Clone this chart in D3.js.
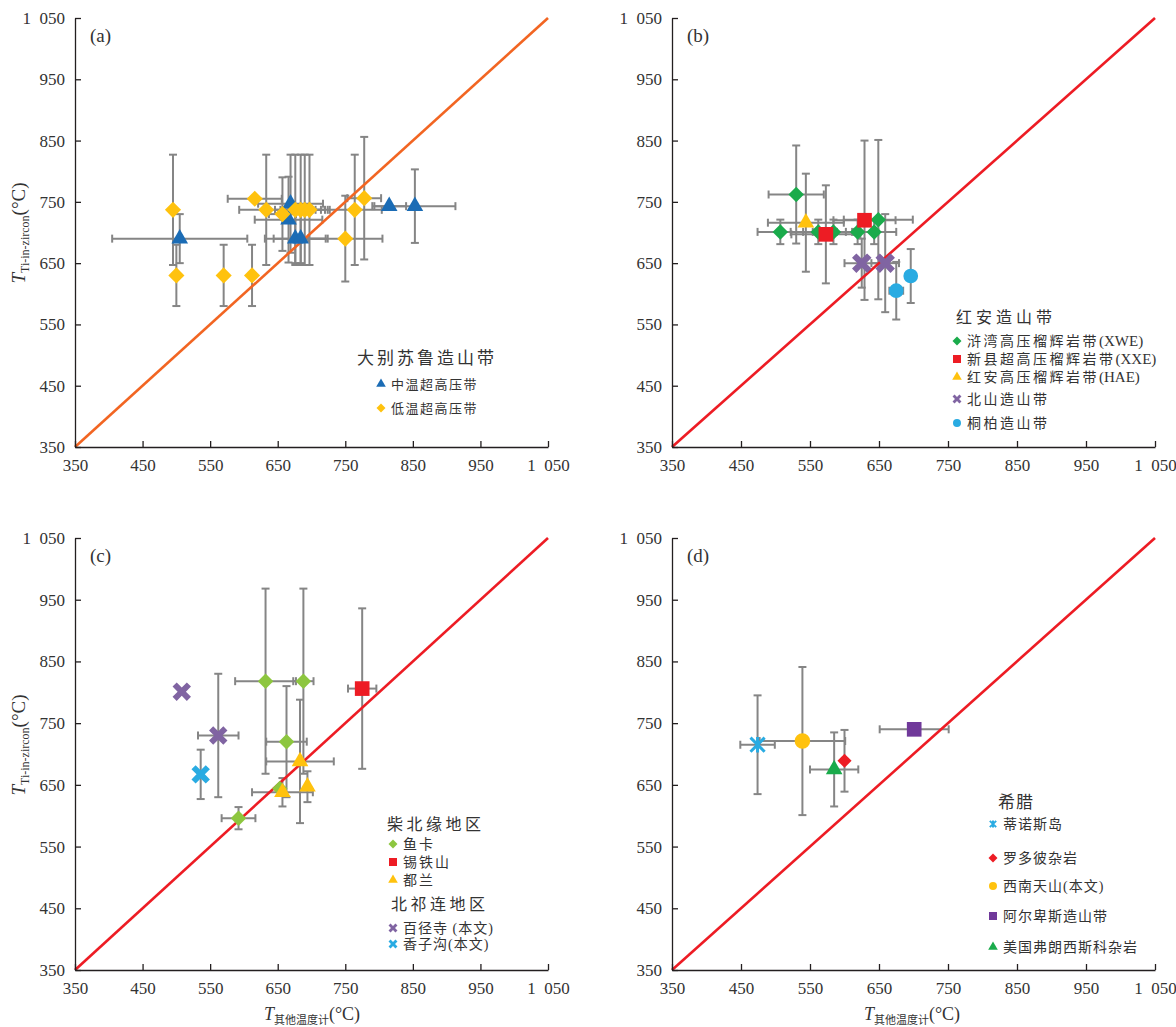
<!DOCTYPE html>
<html>
<head>
<meta charset="utf-8">
<script src="https://cdn.jsdelivr.net/npm/d3@7"></script>
<style>
  body { margin: 0; background: #fff; }
  text { font-family: "Liberation Serif", "Noto Sans CJK SC", serif; fill: #333; }
</style>
</head>
<body>
<svg id="chart" width="1176" height="1027"></svg>
<script>
// shared axis ticks and the 1:1 reference line
const ticks = [350, 450, 550, 650, 750, 850, 950, 1050];
const oneToOne = [350, 1050];

// each point: [x, y, xErr, yErr]
// (a) 大别苏鲁造山带
const aMid = [[505, 690, 100, 40], [669, 747, 48, 80], [666, 721, 50, 70], [676, 690, 45, 40],
              [684, 690, 40, 40], [815, 743, 25, 0], [853, 743, 60, 60]];
const aLow = [[495, 737, 0, 90], [500, 630, 0, 50], [570, 630, 0, 50], [612, 630, 0, 50],
              [616, 755, 40, 0], [633, 737, 40, 90], [657, 730, 20, 60], [676, 737, 30, 90],
              [684, 737, 30, 90], [690, 737, 30, 90], [697, 737, 30, 90], [750, 690, 55, 70],
              [764, 737, 40, 90], [778, 756, 25, 100]];

// (b) 红安造山带
const bXWE = [[530, 762, 40, 80], [507, 701, 33, 20], [562, 701, 40, 20], [584, 701, 30, 20],
              [619, 701, 30, 20], [643, 701, 32, 20], [649, 721, 50, 130]];
const bXXE = [[573, 697, 50, 80], [629, 720, 45, 130]];
const bHAE = [[544, 716, 55, 80]];
const bBeishan = [[625, 650, 25, 40], [659, 650, 20, 80]];
const bTongbai = [[675, 605, 10, 47], [696, 629, 0, 44]];

// (c) 柴北缘 / 北祁连
const cYuka = [[632, 818, 45, 150], [688, 818, 15, 150], [663, 720, 30, 90], [653, 644, 0, 0], [592, 596, 25, 18]];
const cXitieshan = [[775, 806, 21, 130]];
const cDulan = [[683, 688, 50, 100], [657, 638, 45, 23], [694, 647, 0, 25]];
const cBaijingsi = [[508, 801, 0, 0], [562, 730, 30, 100]];
const cXiangzigou = [[536, 667, 0, 40]];

// (d) 希腊 等
const dTinos = [[474, 715, 25, 80]];
const dRhodope = [[600, 689, 0, 50]];
const dSWTianshan = [[539, 721, 62, 120]];
const dAlps = [[701, 740, 50, 0]];
const dFranciscan = [[585, 675, 35, 60]];

const svg = d3.select("#chart");

const panels = [
  { key: "a", left: 75, top: 18, w: 473, h: 429, line: "#f26522" },
  { key: "b", left: 672, top: 18, w: 483, h: 429, line: "#ed1c24" },
  { key: "c", left: 75, top: 538, w: 473, h: 432, line: "#ed1c24" },
  { key: "d", left: 672, top: 538, w: 483, h: 432, line: "#ed1c24" }
];

const fmt = d => d >= 1000 ? Math.floor(d / 1000) + "\u2002" + String(d % 1000).padStart(3, "0") : d;

// custom marker shapes
const diamond = { draw(ctx, size) { const r = Math.sqrt(size / 2); ctx.moveTo(0, -r); ctx.lineTo(r, 0); ctx.lineTo(0, r); ctx.lineTo(-r, 0); ctx.closePath(); } };
const fatX = { draw(ctx, size) {
  const a = Math.sqrt(size) / 2, t = a * 0.45;
  const pts = [[-a, -a + t], [-a + t, -a], [0, -t], [a - t, -a], [a, -a + t], [t, 0], [a, a - t], [a - t, a], [0, t], [-a + t, a], [-a, a - t], [-t, 0]];
  ctx.moveTo(pts[0][0], pts[0][1]); pts.slice(1).forEach(p => ctx.lineTo(p[0], p[1])); ctx.closePath();
} };
const star = { draw(ctx, size) {
  const r = Math.sqrt(size) / 2;
  ctx.moveTo(-r, -r); ctx.lineTo(r, r); ctx.moveTo(r, -r); ctx.lineTo(-r, r);
  ctx.moveTo(0, -r * 1.1); ctx.lineTo(0, r * 1.1);
} };
const shapes = {
  triangle: d3.symbolTriangle, square: d3.symbolSquare, circle: d3.symbolCircle,
  diamond: diamond, x: fatX, star: star
};

function symbolPath(shape, size) {
  return d3.symbol().type(shapes[shape]).size(size)();
}

function drawBars(g, x, y, data) {
  const cap = 4;
  data.forEach(d => {
    const [vx, vy, ex, ey] = d;
    if (ex > 0) {
      g.append("line").attr("x1", x(vx - ex)).attr("x2", x(vx + ex)).attr("y1", y(vy)).attr("y2", y(vy));
      [vx - ex, vx + ex].forEach(e => g.append("line").attr("x1", x(e)).attr("x2", x(e)).attr("y1", y(vy) - cap).attr("y2", y(vy) + cap));
    }
    if (ey > 0) {
      g.append("line").attr("x1", x(vx)).attr("x2", x(vx)).attr("y1", y(vy - ey)).attr("y2", y(vy + ey));
      [vy - ey, vy + ey].forEach(e => g.append("line").attr("x1", x(vx) - cap).attr("x2", x(vx) + cap).attr("y1", y(e)).attr("y2", y(e)));
    }
  });
}

function drawMarks(g, x, y, data, shape, color, size) {
  const isStroke = shape === "star";
  g.selectAll(null).data(data).enter().append("path")
    .attr("d", symbolPath(shape, size))
    .attr("transform", d => "translate(" + x(d[0]) + "," + y(d[1]) + ")")
    .attr("fill", isStroke ? "none" : color)
    .attr("stroke", isStroke ? color : "none")
    .attr("stroke-width", isStroke ? 3 : 0);
}

// label may end with a latin part in brackets, kept without extra spacing
function legendItem(px, py, shape, color, size, label, fs, ls) {
  svg.append("path").attr("d", symbolPath(shape, size))
    .attr("transform", "translate(" + px + "," + py + ")")
    .attr("fill", shape === "star" ? "none" : color)
    .attr("stroke", shape === "star" ? color : "none").attr("stroke-width", 2);
  const t = svg.append("text").attr("x", px + 10).attr("y", py + fs * 0.38).style("font-size", fs + "px");
  const m = label.match(/^(.*?)(\([A-Z]+\))?$/);
  t.append("tspan").style("letter-spacing", ls + "px").text(m[1]);
  if (m[2]) t.append("tspan").style("font-size", (fs + 1) + "px").text(m[2]);
}

function legendTitle(px, py, label, fs, ls) {
  svg.append("text").attr("x", px).attr("y", py + fs * 0.38)
    .style("font-size", fs + "px").style("letter-spacing", ls + "px").text(label);
}

const series = {
  a: [[aMid, "triangle", "#1b6cb5", 120], [aLow, "diamond", "#ffc20e", 130]],
  b: [[bXWE, "diamond", "#1aab4b", 120], [bHAE, "triangle", "#ffc20e", 120], [bXXE, "square", "#ed1c24", 215],
      [bBeishan, "x", "#8064a2", 380], [bTongbai, "circle", "#29abe2", 170]],
  c: [[cYuka, "diamond", "#8dc63f", 120], [cXitieshan, "square", "#ed1c24", 215], [cDulan, "triangle", "#ffc20e", 120],
      [cBaijingsi, "x", "#8064a2", 340], [cXiangzigou, "x", "#29abe2", 340]],
  d: [[dTinos, "star", "#29abe2", 200], [dSWTianshan, "circle", "#ffc20e", 190], [dFranciscan, "triangle", "#1aab4b", 120],
      [dRhodope, "diamond", "#ed1c24", 100], [dAlps, "square", "#70399a", 215]]
};

panels.forEach(p => {
  const g = svg.append("g").attr("transform", "translate(" + p.left + "," + p.top + ")");
  const x = d3.scaleLinear().domain([350, 1050]).range([0, p.w]);
  const y = d3.scaleLinear().domain([350, 1050]).range([p.h, 0]);

  // error bars below the markers
  const bars = g.append("g").attr("stroke", "#858585").attr("stroke-width", 2);
  series[p.key].forEach(s => drawBars(bars, x, y, s[0]));

  // 1:1 line
  g.append("line")
    .attr("x1", x(oneToOne[0])).attr("y1", y(oneToOne[0]))
    .attr("x2", x(oneToOne[1])).attr("y2", y(oneToOne[1]))
    .attr("stroke", p.line).attr("stroke-width", 2.6);

  series[p.key].forEach(s => drawMarks(g, x, y, s[0], s[1], s[2], s[3]));

  const xAxis = g.append("g").attr("transform", "translate(0," + p.h + ")")
    .call(d3.axisBottom(x).tickValues(ticks).tickFormat(fmt).tickSizeInner(-6).tickSizeOuter(0).tickPadding(12));
  const yAxis = g.append("g")
    .call(d3.axisLeft(y).tickValues(ticks).tickFormat(fmt).tickSizeInner(-6).tickSizeOuter(0).tickPadding(10));
  [xAxis, yAxis].forEach(ax => {
    ax.selectAll("path, line").attr("stroke", "#231f20").attr("stroke-width", 1.3);
    ax.selectAll("text").style("font-size", "17px").style("font-family", "Liberation Serif").attr("fill", "#231f20");
  });

  g.append("text").attr("x", 15).attr("y", 24).style("font-size", "19px").text("(" + p.key + ")");
});

// axis titles
function xTitle(cx, cy) {
  const t = svg.append("text").attr("x", cx).attr("y", cy).attr("text-anchor", "middle").style("font-size", "18px");
  t.append("tspan").style("font-style", "italic").text("T");
  t.append("tspan").attr("dy", 4).style("font-size", "11px").text("其他温度计");
  t.append("tspan").attr("dy", -4).text("(°C)");
}
function yTitle(cx, cy) {
  const t = svg.append("text").attr("transform", "translate(" + cx + "," + cy + ") rotate(-90)")
    .attr("text-anchor", "middle").style("font-size", "19px");
  t.append("tspan").style("font-style", "italic").text("T");
  t.append("tspan").attr("dy", 4).style("font-size", "12px").text("Ti-in-zircon");
  t.append("tspan").attr("dy", -4).text("(°C)");
}
yTitle(25, 233);
yTitle(25, 745);
xTitle(312, 1020);
xTitle(912, 1020);

// legends
legendTitle(357, 358, "大别苏鲁造山带", 17, 3);
legendItem(381, 384, "triangle", "#1b6cb5", 40, "中温超高压带", 13, 1.5);
legendItem(381, 408, "diamond", "#ffc20e", 40, "低温超高压带", 13, 1.5);

legendTitle(956, 317, "红安造山带", 16, 4);
legendItem(957, 341, "diamond", "#1aab4b", 40, "浒湾高压榴辉岩带(XWE)", 14, 2.5);
legendItem(957, 359, "square", "#ed1c24", 64, "新县超高压榴辉岩带(XXE)", 14, 2.5);
legendItem(957, 377, "triangle", "#ffc20e", 40, "红安高压榴辉岩带(HAE)", 14, 2.5);
legendItem(957, 399, "x", "#8064a2", 80, "北山造山带", 14, 2.5);
legendItem(957, 423, "circle", "#29abe2", 50, "桐柏造山带", 14, 2.5);

legendTitle(387, 824, "柴北缘地区", 16, 3.5);
legendItem(393, 844, "diamond", "#8dc63f", 40, "鱼卡", 14, 2);
legendItem(393, 862, "square", "#ed1c24", 64, "锡铁山", 14, 2);
legendItem(393, 880, "triangle", "#ffc20e", 40, "都兰", 14, 2);
legendTitle(391, 904, "北祁连地区", 16, 3.5);
legendItem(393, 928, "x", "#8064a2", 80, "百径寺 (本文)", 14, 1);
legendItem(393, 944, "x", "#29abe2", 80, "香子沟(本文)", 14, 1);

legendTitle(998, 802, "希腊", 17, 1);
legendItem(993, 824, "star", "#29abe2", 40, "蒂诺斯岛", 14, 1);
legendItem(993, 858, "diamond", "#ed1c24", 40, "罗多彼杂岩", 14, 1);
legendItem(993, 886, "circle", "#ffc20e", 50, "西南天山(本文)", 14, 1);
legendItem(993, 916, "square", "#70399a", 64, "阿尔卑斯造山带", 14, 1);
legendItem(993, 947, "triangle", "#1aab4b", 40, "美国弗朗西斯科杂岩", 14, 1);
</script>
</body>
</html>
